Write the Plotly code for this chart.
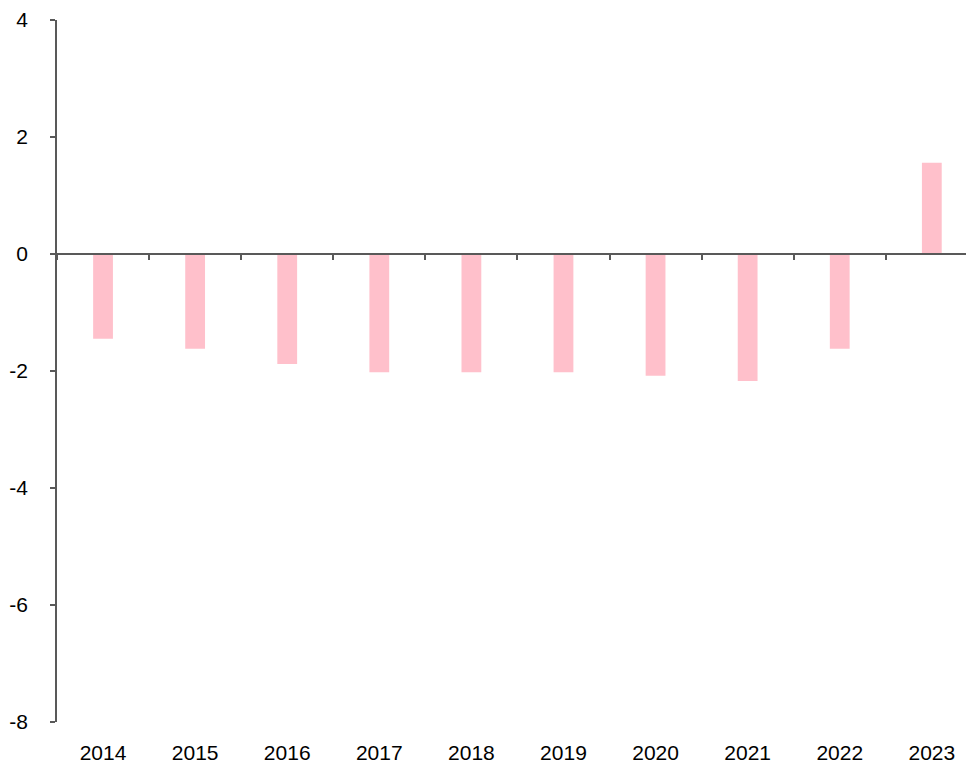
import plotly.graph_objects as go

years = ["2014", "2015", "2016", "2017", "2018", "2019", "2020", "2021", "2022", "2023"]
values = [-1.45, -1.62, -1.88, -2.02, -2.02, -2.02, -2.08, -2.17, -1.62, 1.56]
y_ticks = [-8, -6, -4, -2, 0, 2, 4]

axis_color = "#595959"
font = dict(family="Liberation Sans, Arial, sans-serif", size=21, color="#000000")

fig = go.Figure()
fig.add_trace(go.Bar(
    x=years, y=values, xaxis="x", yaxis="y",
    marker=dict(color="#FFC0CB", line=dict(width=0)),
    width=0.215, hoverinfo="x+y",
))
# invisible companion trace so the zero-line axis renders
fig.add_trace(go.Scatter(
    x=years, y=values, xaxis="x2", yaxis="y",
    mode="none", hoverinfo="skip", showlegend=False,
))

# page body has an 8px margin, so the figure is sized to fit the window
fig.update_layout(
    width=966, height=756,
    margin=dict(l=49, r=0, t=7, b=41),
    paper_bgcolor="white", plot_bgcolor="white",
    showlegend=False,
    font=font,
    xaxis=dict(
        type="category", range=[-0.5, 9.458],
        showline=False, ticks="", showgrid=False, zeroline=False,
        tickfont=font, ticklabelstandoff=16,
    ),
    xaxis2=dict(
        type="category", overlaying="x", matches="x",
        anchor="free", position=8 / 12,
        showline=True, linecolor=axis_color, linewidth=1.5,
        ticks="outside", tickson="boundaries", ticklen=5, tickwidth=1.5,
        tickcolor=axis_color, showticklabels=False, showgrid=False, zeroline=False,
    ),
    yaxis=dict(
        range=[-8, 4], tickvals=y_ticks, ticktext=[str(v) for v in y_ticks],
        showline=True, linecolor=axis_color, linewidth=1.5,
        ticks="outside", ticklen=5, tickwidth=1.5, tickcolor=axis_color,
        showgrid=False, zeroline=False, tickfont=font, ticklabelstandoff=18,
        ticklabeloverflow="allow",
    ),
)

fig.write_html("out.html")
